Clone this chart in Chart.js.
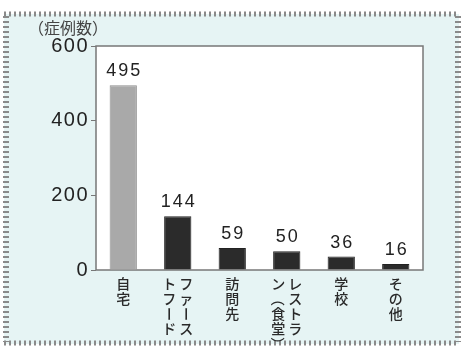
<!DOCTYPE html>
<html><head><meta charset="utf-8">
<script src="https://cdn.jsdelivr.net/npm/chart.js@4/dist/chart.umd.min.js"></script>
<style>html,body{margin:0;padding:0;background:#fff;}#wrap{width:461px;height:346px;}</style>
</head><body><div id="wrap"><canvas id="c" width="461" height="346"></canvas></div>
<script>
const categories = ['自宅', 'ファーストフード', '訪問先', 'レストラン（食堂）', '学校', 'その他'];
const labelColumns = [['自宅'], ['ファース', 'トフード'], ['訪問先'], ['レストラ', 'ン（食堂）'], ['学校'], ['その他']];
const cases = [495, 144, 59, 50, 36, 16];
const yTicks = [0, 200, 400, 600];
const yTitle = '（症例数）';

const FONT = '"Liberation Sans", Arial, sans-serif';
const JFONT = '"Noto Sans CJK JP", sans-serif';

const decor = {
  id: 'decor',
  beforeDraw(chart) {
    const ctx = chart.ctx, a = chart.chartArea;
    ctx.save();
    ctx.fillStyle = '#e6f4f4';
    ctx.fillRect(4, 14, 455, 330);
    ctx.fillStyle = '#ffffff';
    ctx.fillRect(a.left, a.top, a.right - a.left, a.bottom - a.top);
    ctx.strokeStyle = '#8a8a8a';
    ctx.setLineDash([2, 3]);
    ctx.lineWidth = 5;
    ctx.beginPath(); ctx.moveTo(4, 14); ctx.lineTo(459, 14); ctx.stroke();
    ctx.beginPath(); ctx.moveTo(4, 343); ctx.lineTo(459, 343); ctx.stroke();
    ctx.lineWidth = 6;
    ctx.beginPath(); ctx.moveTo(6, 16); ctx.lineTo(6, 342); ctx.stroke();
    ctx.beginPath(); ctx.moveTo(458, 16); ctx.lineTo(458, 342); ctx.stroke();
    ctx.setLineDash([]);
    ctx.strokeStyle = '#777';
    ctx.lineWidth = 1.5;
    ctx.strokeRect(a.left, a.top, a.right - a.left, a.bottom - a.top);
    ctx.fillStyle = '#444';
    ctx.font = '16px ' + JFONT;
    ctx.textBaseline = 'middle';
    ctx.textAlign = 'left';
    ctx.fillText(yTitle, 28, 28);
    ctx.restore();
    ctx.letterSpacing = '1.5px';
  },
  afterDatasetsDraw(chart) {
    const ctx = chart.ctx;
    const meta = chart.getDatasetMeta(0);
    const xs = chart.scales.x;
    ctx.save();
    ctx.letterSpacing = '2px';
    ctx.fillStyle = '#222';
    ctx.font = '18px ' + FONT;
    ctx.textAlign = 'center';
    ctx.textBaseline = 'alphabetic';
    meta.data.forEach((el, i) => {
      ctx.fillText(String(cases[i]), el.x + 1, el.y - 9);
    });
    ctx.letterSpacing = '0px';
    // vertical category labels
    ctx.font = '500 14px ' + JFONT;
    ctx.fillStyle = '#2a2a2a';
    ctx.textBaseline = 'middle';
    const colGap = 17, charH = 15;
    labelColumns.forEach((cols, i) => {
      const cx = xs.getPixelForValue(i);
      const n = cols.length;
      cols.forEach((col, j) => {
        const x = cx + ((n - 1) / 2 - j) * colGap;
        [...col].forEach((ch, k) => {
          const y = chart.chartArea.bottom + 14 + k * charH;
          if ('ー（）'.includes(ch)) {
            ctx.save();
            ctx.translate(x, y);
            ctx.rotate(Math.PI / 2);
            ctx.fillText(ch, 0, 0);
            ctx.restore();
          } else {
            ctx.fillText(ch, x, y);
          }
        });
      });
    });
    ctx.restore();
  }
};

new Chart(document.getElementById('c'), {
  type: 'bar',
  data: {
    labels: categories,
    datasets: [{
      data: cases,
      backgroundColor: cases.map((v, i) => i === 0 ? '#a9a9a9' : '#2b2b2b'),
      borderColor: cases.map((v, i) => i === 0 ? '#8f8f8f' : '#222'),
      borderWidth: 1,
      barPercentage: 0.5,
      categoryPercentage: 1.0
    }]
  },
  options: {
    responsive: false,
    animation: false,
    devicePixelRatio: 1,
    layout: { padding: { left: 0, top: 46, right: 38, bottom: 76 } },
    plugins: { legend: { display: false }, tooltip: { enabled: false } },
    scales: {
      x: {
        grid: { display: false },
        border: { display: false },
        ticks: { display: false },
        afterFit(s) { s.height = 0; }
      },
      y: {
        min: 0, max: 600,
        afterBuildTicks(s) { s.ticks = yTicks.map(v => ({ value: v })); },
        grid: { drawOnChartArea: false, tickLength: 5, color: '#777' },
        border: { display: false },
        ticks: { color: '#222', font: { size: 20, family: FONT }, padding: 2 },
        afterFit(s) { s.width = 96; }
      }
    }
  },
  plugins: [decor]
});
</script>
</body></html>
